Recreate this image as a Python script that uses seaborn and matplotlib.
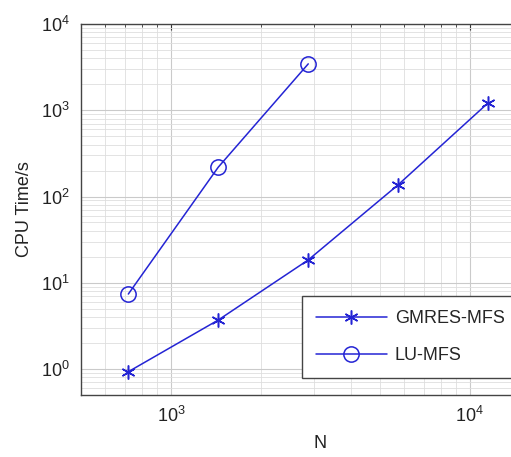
import pandas as pd
import matplotlib
matplotlib.use("Agg")
import matplotlib.pyplot as plt
import seaborn as sns
from matplotlib.ticker import LogLocator, NullFormatter

# values
n_gmres = [720, 1440, 2880, 5760, 11520]
t_gmres = [0.93, 3.7, 18.4, 137, 1220]
n_lu = [720, 1440, 2880]
t_lu = [7.4, 219, 3450]
labels = ["GMRES-MFS", "LU-MFS"]

blue = "#2424d4"

sns.set_theme(style="whitegrid")
plt.rcParams["font.family"] = ["Liberation Sans", "DejaVu Sans"]
plt.rcParams["mathtext.fontset"] = "custom"
plt.rcParams["mathtext.rm"] = "Liberation Sans"

df_gmres = pd.DataFrame({"N": n_gmres, "time": t_gmres})
df_lu = pd.DataFrame({"N": n_lu, "time": t_lu})

fig = plt.figure(figsize=(5.11, 4.57), dpi=100)
ax = fig.add_axes([0.1585, 0.1357, 0.937, 0.8118])
ax.set_facecolor("white")

sns.lineplot(data=df_gmres, x="N", y="time", ax=ax, color=blue, lw=1.1,
             marker=(6, 2, 0), markersize=10, markeredgewidth=1.1,
             markeredgecolor=blue, label=labels[0])
sns.lineplot(data=df_lu, x="N", y="time", ax=ax, color=blue, lw=1.1,
             marker="o", markersize=11, markerfacecolor="none",
             markeredgewidth=1.1, markeredgecolor=blue, label=labels[1])

ax.set_xscale("log")
ax.set_yscale("log")
ax.set_xlim(500, 20000)
ax.set_ylim(0.5, 1e4)

ax.xaxis.set_major_locator(LogLocator(base=10, numticks=10))
ax.xaxis.set_minor_locator(LogLocator(base=10, subs=range(2, 10), numticks=20))
ax.yaxis.set_major_locator(LogLocator(base=10, numticks=10))
ax.yaxis.set_minor_locator(LogLocator(base=10, subs=range(2, 10), numticks=20))
ax.xaxis.set_minor_formatter(NullFormatter())
ax.yaxis.set_minor_formatter(NullFormatter())

ax.grid(True, which="major", color="#cacaca", lw=0.8)
ax.grid(True, which="minor", color="#dedede", lw=0.6)
ax.tick_params(which="both", direction="in", top=True, right=True,
               colors="#333333", labelcolor="#222222", labelsize=13)
ax.tick_params(which="major", length=4, width=0.8, pad=8)
ax.tick_params(which="minor", length=2.5, width=0.6)
for s in ax.spines.values():
    s.set_color("#444444")
    s.set_linewidth(1.0)

ax.set_xlabel("N", fontsize=13, color="#222222", labelpad=6)
ax.set_ylabel("CPU Time/s", fontsize=13, color="#222222", labelpad=6)

leg = ax.legend(loc="lower left", bbox_to_anchor=(0.4617, 0.0458),
                borderaxespad=0, fontsize=13, handlelength=3.9,
                handletextpad=0.45, fancybox=False, framealpha=1,
                edgecolor="#444444", borderpad=0.78, labelspacing=1.1)
leg.get_frame().set_linewidth(1.0)

fig.savefig("out.png", dpi=100)
